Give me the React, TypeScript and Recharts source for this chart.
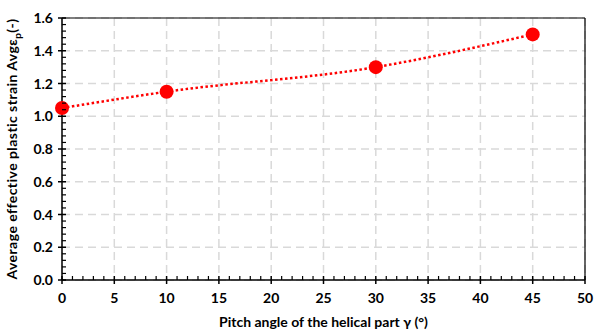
import React from 'react';
import { LineChart, Line, XAxis, YAxis, CartesianGrid, ReferenceLine } from 'recharts';

// Pitch angle (deg) vs average effective plastic strain
const pitchAngles = [0, 10, 30, 45];
const avgStrain = [1.05, 1.15, 1.3, 1.5];

const xMajor = [0, 5, 10, 15, 20, 25, 30, 35, 40, 45, 50];
const yMajor = [0, 0.2, 0.4, 0.6, 0.8, 1.0, 1.2, 1.4, 1.6];
// minor ticks: every 1 deg on x, every 0.04 on y
const xMinor = Array.from({ length: 51 }, (_, i) => i);
const yMinor = Array.from({ length: 41 }, (_, i) => Math.round(i * 4) / 100);

const RED = '#ff0000';
const GRID = '#d9d9d9';
const FONT = 'Lato, "Open Sans", sans-serif';

const data = pitchAngles.map((a, i) => ({ angle: a, strain: avgStrain[i] }));

const XTick = (props: any) => {
    const { x, y, payload } = props;
    const v = payload.value;
    const major = v % 5 === 0;
    return (
        <g>
            {major
                ? <line x1={x} x2={x} y1={y - 4} y2={y + 4} stroke="#000" strokeWidth={1.5} />
                : <line x1={x} x2={x} y1={y} y2={y - 4} stroke="#000" strokeWidth={1.2} />}
            {major && (
                <text x={x} y={y + 23} textAnchor="middle" fontSize={14} fontWeight={700} fill="#000" fontFamily={FONT}>{v}</text>
            )}
        </g>
    );
};

const YTick = (props: any) => {
    const { x, y, payload } = props;
    const v = payload.value;
    const major = Math.round(v * 100) % 20 === 0;
    return (
        <g>
            {major
                ? <line x1={x - 4} x2={x + 4} y1={y} y2={y} stroke="#000" strokeWidth={1.5} />
                : <line x1={x} x2={x + 4} y1={y} y2={y} stroke="#000" strokeWidth={1.2} />}
            {major && (
                <text x={x - 9} y={y + 5} textAnchor="end" fontSize={14} fontWeight={700} fill="#000" fontFamily={FONT}>{v.toFixed(1)}</text>
            )}
        </g>
    );
};

const XTitle = (props: any) => {
    const { viewBox } = props;
    return (
        <text x={viewBox.x + viewBox.width / 2} y={viewBox.y + 47} textAnchor="middle" fontSize={14} fontWeight={700} fill="#000" fontFamily={FONT}>
            Pitch angle of the helical part γ (°)
        </text>
    );
};

const YTitle = (props: any) => {
    const { viewBox } = props;
    const cx = 17;
    const cy = viewBox.y + viewBox.height / 2;
    return (
        <text x={cx} y={cy} transform={`rotate(-90, ${cx}, ${cy})`} textAnchor="middle" fontSize={14} fontWeight={700}
            letterSpacing={0.45} fill="#000" fontFamily={FONT}>
            Average effective plastic strain Avgε
            <tspan fontSize={10} dy={4}>p</tspan>
            <tspan dy={-4}>(-)</tspan>
        </text>
    );
};

export default function App() {
    return (
        <div style={{ position: 'absolute', left: 0, top: 0, background: '#fff' }}>
            <LineChart width={595} height={331} data={data} margin={{ top: 18, right: 10, bottom: 0, left: 0 }}>
                <CartesianGrid stroke={GRID} strokeWidth={1.5} strokeDasharray="8 5"
                    verticalValues={xMajor} horizontalValues={yMajor} />
                <XAxis dataKey="angle" type="number" domain={[0, 50]} ticks={xMinor} interval={0}
                    height={51} tickSize={0} tickMargin={0} tickLine={false} tick={<XTick />}
                    axisLine={{ stroke: '#000', strokeWidth: 1.5 }} label={<XTitle />} />
                <YAxis type="number" domain={[0, 1.6]} ticks={yMinor} interval={0}
                    width={62} tickSize={0} tickMargin={0} tickLine={false} tick={<YTick />}
                    axisLine={{ stroke: '#000', strokeWidth: 1.5 }} label={<YTitle />} />
                <ReferenceLine y={1.6} stroke="#000" strokeWidth={1.2} />
                <ReferenceLine x={50} stroke="#000" strokeWidth={1.2} />
                <Line type="monotone" dataKey="strain" stroke={RED} strokeWidth={2.5} strokeDasharray="2.5 2.5"
                    dot={{ r: 7, fill: RED, stroke: RED, strokeWidth: 0, strokeDasharray: '' }}
                    activeDot={false} isAnimationActive={false} />
            </LineChart>
        </div>
    );
}
